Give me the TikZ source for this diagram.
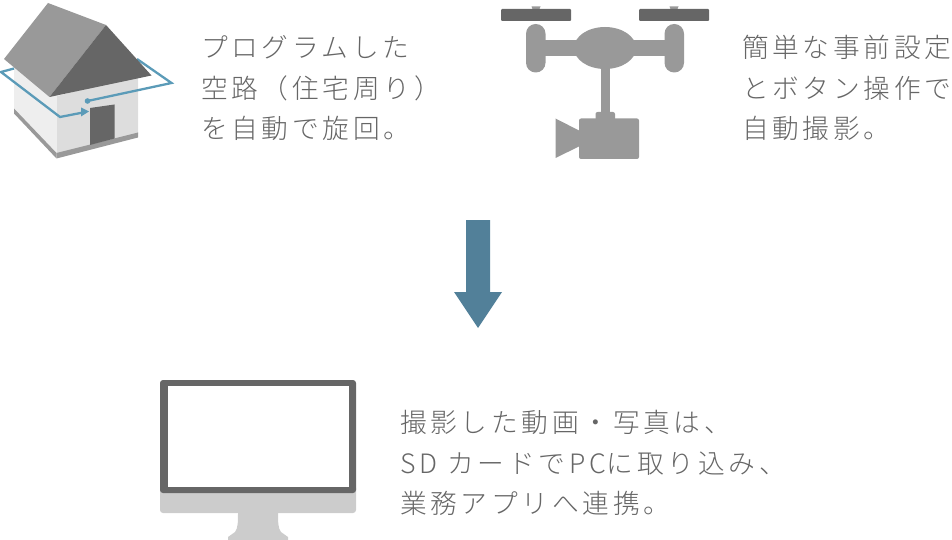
\documentclass[tikz,border=0pt]{standalone}
\usepackage{fontspec}
\setmainfont[LetterSpace=14,UprightFont={* Light}]{Noto Sans CJK JP}
\definecolor{txt}{HTML}{666666}
\definecolor{dk}{HTML}{666666}
\definecolor{md}{HTML}{999999}
\definecolor{lt}{HTML}{CCCCCC}
\definecolor{wallL}{HTML}{EEEEEE}
\definecolor{wallR}{HTML}{DDDDDD}
\definecolor{route}{HTML}{5B9BB8}
\definecolor{arrowc}{HTML}{528099}
\tikzset{
  label/.style={anchor=base west,inner sep=0pt,outer sep=0pt,text=txt,font=\fontsize{26.7}{26.7}\selectfont},
  routeline/.style={draw=route,line width=2.3pt,line join=miter}
}
\begin{document}
\begin{tikzpicture}[x=1pt,y=-1pt]
\useasboundingbox (0,0) rectangle (952,540);
% house
\fill[wallL] (14,66) -- (57,96) -- (57,155) -- (14,110) -- cycle;
\fill[wallR] (57,96) -- (138,76) -- (138,134) -- (57,155) -- cycle;
\fill[md] (14,108.5) -- (56.5,153) -- (56.5,158.5) -- (14,113.5) -- cycle;
\fill[md] (56.5,153) -- (138,132.5) -- (138,137.5) -- (56.5,158.5) -- cycle;
\fill[dk] (90,108) -- (114.5,104.5) -- (114.5,138.5) -- (90,145) -- cycle;
\draw[routeline] (137,59) -- (171.5,83) -- (87.5,101);
\fill[route] (87.5,101) circle (2.8);
\draw[routeline] (14,68.5) -- (1,72) -- (60,117) -- (82,112.7);
\fill[route] (89,111.5) -- (81,107.5) -- (81,116.5) -- cycle;
\fill[md] (48,3) -- (106,25) -- (49.5,97) -- (4,59) -- cycle;
\fill[dk] (106,25) -- (151.5,75.5) -- (49.5,97) -- cycle;
% drone
\fill[md] (531.5,6.5) arc (180:0:4.5) -- cycle;
\fill[md] (669.5,6.5) arc (180:0:4.5) -- cycle;
\fill[dk,rounded corners=1pt] (501,9) rectangle (571,21);
\fill[dk,rounded corners=1pt] (639,9) rectangle (709,21);
\fill[md,rounded corners=9.7pt] (526,24) rectangle (545.5,72.5);
\fill[md,rounded corners=9.7pt] (664.5,24) rectangle (684,72.5);
\fill[md] (545,40.5) rectangle (665,56.5);
\fill[md] (605,48) ellipse (31 and 21);
\fill[md] (600.5,66) rectangle (610,115);
\fill[md,rounded corners=2pt] (595.5,112) rectangle (615,122);
\fill[md,rounded corners=2pt] (579,118.5) rectangle (639,159);
\fill[md] (555.5,118.5) -- (580,131) -- (580,146) -- (555.5,158) -- cycle;
% arrow
\fill[arrowc] (466,220) -- (490,220) -- (490,292) -- (502,292) -- (478,328) -- (454,292) -- (466,292) -- cycle;
% monitor
\fill[lt,rounded corners=3pt] (160,485) rectangle (356,513);
\fill[lt] (238,512) -- (278,512) .. controls (278,522) and (278,528) .. (281,532) -- (288,537) -- (288,540) -- (228,540) -- (228,537) -- (235,532) .. controls (238,528) and (238,522) .. (238,512) -- cycle;
\fill[dk,rounded corners=3pt] (160,380) -- (356,380) -- (356,493) -- (160,493) -- cycle;
\fill[white] (167.5,386) rectangle (348.5,487);
% texts
\node[label] (t1a) at (201,58) {プログラムした};
\node[label] (t1b) at (201,98.5) {空路（住宅周り）};
\node[label] (t1c) at (201,139) {を自動で旋回。};
\node[label] (t2a) at (742,58) {簡単な事前設定};
\node[label] (t2b) at (742,98.5) {とボタン操作で};
\node[label] (t2c) at (742,139) {自動撮影。};
\node[label] (t3a) at (400,432) {撮影した動画・写真は、};
\node[label] (t3b) at (400,473) {SD\kern10ptカードで\kern4ptPC\kern1ptに取り込み、};
\node[label] (t3c) at (400,513) {業務アプリへ連携。};
\end{tikzpicture}
\end{document}
